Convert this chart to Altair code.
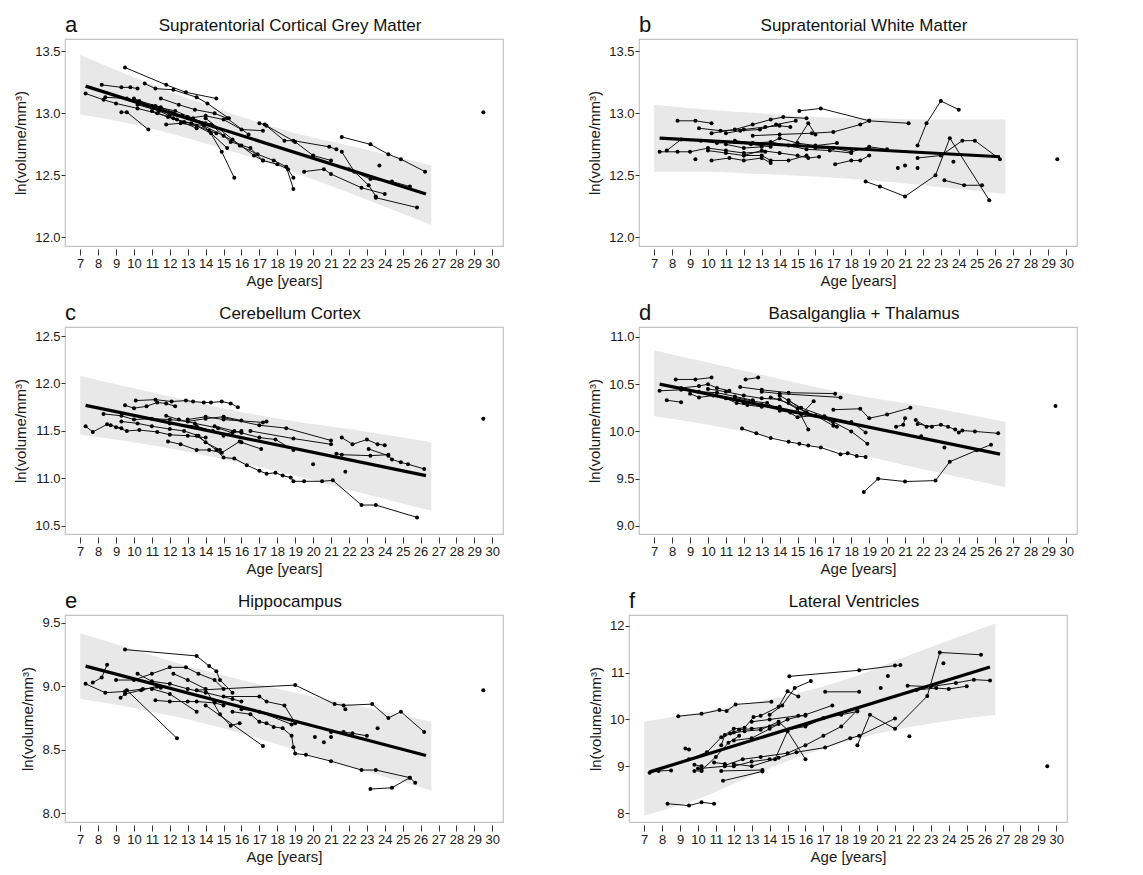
import altair as alt
import pandas as pd

FONT = "Liberation Sans, Arial, sans-serif"

LETTERS = ["a", "b", "c", "d", "e", "f"]
TITLES = [
    "Supratentorial Cortical Grey Matter",
    "Supratentorial White Matter",
    "Cerebellum Cortex",
    "Basalganglia + Thalamus",
    "Hippocampus",
    "Lateral Ventricles",
]
X_TICKS = list(range(7, 31))

# regression line end points (age, value) per panel
REG_X = [7.3, 26.3]
A_REG = [13.22, 12.35]
B_REG = [12.80, 12.65]
C_REG = [11.77, 11.03]
D_REG = [10.50, 9.76]
E_REG = [9.16, 8.455]
F_REG = [8.88, 11.12]

# confidence band (ages, lower, upper)
BAND_X = [7.0, 10, 13, 16, 19, 22, 26.6]
A_LO = [12.99, 12.91, 12.80, 12.67, 12.52, 12.36, 12.10]
A_HI = [13.47, 13.29, 13.12, 12.97, 12.84, 12.74, 12.58]
B_LO = [12.53, 12.53, 12.51, 12.49, 12.46, 12.42, 12.35]
B_HI = [13.07, 13.03, 13.00, 12.97, 12.96, 12.95, 12.95]
C_LO = [11.46, 11.38, 11.28, 11.16, 11.03, 10.88, 10.66]
C_HI = [12.08, 11.95, 11.82, 11.70, 11.60, 11.52, 11.38]
D_LO = [10.16, 10.07, 9.96, 9.85, 9.73, 9.60, 9.41]
D_HI = [10.86, 10.73, 10.60, 10.47, 10.36, 10.27, 10.10]
E_LO = [8.90, 8.83, 8.74, 8.63, 8.50, 8.37, 8.18]
E_HI = [9.42, 9.29, 9.16, 9.05, 8.95, 8.86, 8.72]
F_LO = [7.95, 8.30, 8.80, 9.25, 9.60, 9.85, 10.10]
F_HI = [9.95, 10.15, 10.35, 10.60, 10.95, 11.40, 12.05]

# per-subject trajectories: (age, ln volume)
A_SUBJ = [
    [(9.5, 13.37), (11.8, 13.23), (12.9, 13.17), (14.6, 13.12)],
    [(8.2, 13.23), (9.3, 13.21), (9.8, 13.21), (10.2, 13.20)],
    [(10.6, 13.24), (11.2, 13.20), (12.2, 13.19), (13.5, 13.13), (14.1, 13.08), (15.3, 12.96)],
    [(7.3, 13.16), (8.3, 13.11), (9.0, 13.08), (10.2, 13.04), (11.3, 13.00), (12.2, 12.96), (13.5, 12.88)],
    [(9.3, 13.01), (9.6, 13.01), (10.8, 12.87)],
    [(8.4, 13.13), (9.6, 13.12), (10.3, 13.10), (11.5, 13.05), (12.7, 12.98), (14.0, 12.92)],
    [(10.0, 13.12), (11.0, 13.06), (12.3, 13.02), (13.3, 12.96), (14.2, 12.86), (14.9, 12.69), (15.6, 12.48)],
    [(11.5, 13.12), (12.5, 13.07), (13.4, 13.03), (14.5, 13.00), (15.2, 12.96), (16.4, 12.83)],
    [(11.0, 13.02), (11.9, 12.97), (12.8, 12.93), (13.9, 12.90), (15.0, 12.82), (16.0, 12.74)],
    [(11.2, 13.06), (12.1, 13.00), (13.0, 12.97), (14.3, 12.91), (15.4, 12.77), (16.5, 12.72), (17.2, 12.62)],
    [(10.2, 13.07), (11.4, 13.02), (12.4, 12.95), (13.2, 12.92), (14.3, 12.84), (15.2, 12.72)],
    [(11.8, 12.91), (12.6, 12.92), (13.5, 12.90), (14.6, 12.84)],
    [(12.0, 12.99), (13.0, 12.96), (14.0, 12.98), (15.0, 12.95), (16.0, 12.87), (17.2, 12.86)],
    [(17.0, 12.92), (17.3, 12.91), (18.4, 12.78), (18.9, 12.78), (20.9, 12.73), (21.3, 12.71)],
    [(14.0, 12.96), (15.5, 12.79), (16.7, 12.66), (17.2, 12.62), (18.0, 12.59), (18.6, 12.55), (18.9, 12.48)],
    [(15.9, 12.74), (16.9, 12.67), (17.8, 12.62), (18.5, 12.57), (18.9, 12.39)],
    [(17.4, 12.90), (19.0, 12.77), (20.0, 12.66), (21.0, 12.62)],
    [(19.5, 12.53), (20.6, 12.55), (21.0, 12.51), (22.7, 12.40), (24.0, 12.35)],
    [(21.6, 12.81), (23.2, 12.75), (24.2, 12.67), (24.9, 12.63), (26.25, 12.53)],
    [(21.6, 12.69), (22.3, 12.53), (23.1, 12.42), (23.5, 12.33)],
    [(23.5, 12.32), (25.8, 12.24)],
    [(22.0, 12.55), (23.2, 12.47), (24.4, 12.45), (25.4, 12.41)],
    [(23.7, 12.58)],
    [(29.5, 13.01)],
]

B_SUBJ = [
    [(8.3, 12.94), (9.3, 12.94), (10.2, 12.92)],
    [(9.5, 12.88), (10.7, 12.86), (12.0, 12.87), (13.2, 12.89), (14.0, 12.90), (14.6, 12.89)],
    [(10.2, 12.84), (11.5, 12.87), (12.5, 12.91), (13.5, 12.95), (14.2, 12.97), (15.5, 12.96)],
    [(11.0, 12.84), (11.8, 12.86), (12.9, 12.87), (13.8, 12.91), (14.9, 12.94)],
    [(15.1, 13.02), (16.3, 13.04), (19.0, 12.94), (21.2, 12.92)],
    [(12.5, 12.82), (14.0, 12.83), (15.8, 12.84), (17.0, 12.85), (18.5, 12.91), (19.0, 12.94)],
    [(14.8, 12.74), (15.6, 12.92), (16.0, 12.83)],
    [(7.3, 12.69), (8.3, 12.69), (9.0, 12.69), (10.0, 12.72), (11.0, 12.70), (12.0, 12.68), (13.2, 12.69)],
    [(7.7, 12.70), (8.5, 12.79), (9.6, 12.78), (10.5, 12.76), (11.5, 12.77), (12.4, 12.75), (13.5, 12.73)],
    [(9.3, 12.63)],
    [(10.2, 12.62), (11.2, 12.64), (12.0, 12.62), (13.0, 12.64), (13.5, 12.60)],
    [(10.0, 12.70), (11.0, 12.68), (12.0, 12.66), (13.0, 12.70), (14.0, 12.68), (15.0, 12.66), (15.6, 12.64), (16.2, 12.65)],
    [(11.0, 12.75), (12.0, 12.72), (13.0, 12.73), (14.0, 12.80), (15.0, 12.76), (16.0, 12.74), (17.2, 12.76)],
    [(11.5, 12.78), (12.5, 12.76), (13.5, 12.77), (14.5, 12.74), (15.5, 12.71), (16.8, 12.70), (18.0, 12.68)],
    [(12.0, 12.66), (13.0, 12.66), (13.5, 12.62), (14.5, 12.62), (15.5, 12.66)],
    [(17.1, 12.59), (18.0, 12.62), (18.5, 12.62), (19.0, 12.66)],
    [(16.0, 12.72), (17.0, 12.72), (18.0, 12.69), (19.0, 12.73), (20.0, 12.71)],
    [(18.8, 12.45), (19.6, 12.41), (21.0, 12.33), (22.7, 12.50), (23.5, 12.80), (25.7, 12.30)],
    [(21.7, 12.64), (23.0, 12.66), (24.2, 12.78), (24.9, 12.78), (26.3, 12.63)],
    [(21.7, 12.74), (22.2, 12.92), (23.0, 13.10), (24.0, 13.03)],
    [(23.2, 12.46), (24.3, 12.42), (25.3, 12.42)],
    [(23.7, 12.61)],
    [(20.6, 12.56)],
    [(21.0, 12.58)],
    [(21.7, 12.56)],
    [(29.5, 12.63)],
]

C_SUBJ = [
    [(10.1, 11.82), (11.2, 11.83), (12.1, 11.81), (12.9, 11.82), (13.3, 11.81), (13.9, 11.80), (14.3, 11.80), (14.9, 11.81), (15.4, 11.79), (15.8, 11.75)],
    [(9.5, 11.77), (10.0, 11.74), (10.7, 11.76), (11.3, 11.80), (11.8, 11.79), (12.3, 11.76)],
    [(8.3, 11.68), (9.3, 11.66), (10.0, 11.62), (11.0, 11.63), (12.0, 11.62), (13.0, 11.60), (14.0, 11.63), (15.0, 11.65), (16.0, 11.61)],
    [(7.3, 11.55), (7.7, 11.49), (8.5, 11.57), (8.7, 11.56), (9.3, 11.53)],
    [(9.0, 11.54), (9.6, 11.50), (10.3, 11.51), (11.3, 11.49), (12.0, 11.46), (13.0, 11.45), (14.0, 11.43)],
    [(9.3, 11.60), (10.2, 11.58), (11.0, 11.55), (12.0, 11.52), (12.8, 11.50), (13.6, 11.45), (14.0, 11.38), (14.8, 11.30)],
    [(11.9, 11.39), (12.6, 11.36), (13.5, 11.30), (14.2, 11.30), (14.9, 11.27), (15.9, 11.39)],
    [(11.8, 11.66), (12.5, 11.62), (13.4, 11.58), (14.7, 11.53), (15.5, 11.48), (16.0, 11.50)],
    [(12.0, 11.58), (13.5, 11.55), (14.4, 11.50), (15.0, 11.45), (15.6, 11.50)],
    [(13.0, 11.62), (14.0, 11.65), (15.0, 11.62), (17.2, 11.59), (17.4, 11.60)],
    [(15.0, 11.64), (17.0, 11.56), (18.5, 11.53), (21.0, 11.40)],
    [(13.5, 11.45), (14.6, 11.30), (15.0, 11.22), (15.6, 11.21), (16.3, 11.14), (17.0, 11.08), (17.4, 11.05), (17.9, 11.06), (18.3, 11.03), (18.75, 11.01), (18.9, 10.97), (19.5, 10.97), (20.5, 10.97), (21.1, 10.98), (22.7, 10.72), (23.5, 10.72), (25.8, 10.59)],
    [(14.5, 11.55), (16.0, 11.48), (17.0, 11.43), (17.9, 11.41), (18.9, 11.30)],
    [(16.0, 11.38), (17.1, 11.31)],
    [(16.5, 11.50), (18.9, 11.42), (21.0, 11.36)],
    [(21.6, 11.43), (22.2, 11.36), (23.0, 11.41), (23.6, 11.36), (24.0, 11.35)],
    [(23.1, 11.31), (24.2, 11.24), (24.4, 11.20), (24.9, 11.17), (25.3, 11.15), (26.2, 11.10)],
    [(21.3, 11.26), (21.6, 11.25), (23.2, 11.24), (24.2, 11.25)],
    [(20.0, 11.15)],
    [(21.8, 11.07)],
    [(29.5, 11.63)],
]

D_SUBJ = [
    [(8.2, 10.55), (9.3, 10.55), (10.2, 10.57)],
    [(12.1, 10.55), (12.8, 10.57)],
    [(7.3, 10.43), (8.5, 10.44), (9.5, 10.42), (10.5, 10.41), (11.5, 10.37), (12.5, 10.33)],
    [(7.7, 10.33), (8.5, 10.31)],
    [(8.5, 10.46), (9.5, 10.48), (10.0, 10.50), (10.5, 10.46), (11.2, 10.43)],
    [(9.0, 10.40), (9.5, 10.36), (10.3, 10.38), (11.0, 10.35), (11.6, 10.30), (12.2, 10.28), (13.0, 10.26)],
    [(11.8, 10.47), (13.0, 10.44), (14.5, 10.41), (17.1, 10.40)],
    [(13.0, 10.42), (14.0, 10.40), (17.4, 10.36)],
    [(10.0, 10.45), (11.0, 10.42), (12.0, 10.38), (13.0, 10.35), (14.0, 10.34), (15.0, 10.24), (15.6, 10.02)],
    [(11.5, 10.36), (12.5, 10.32), (13.3, 10.30), (14.0, 10.22), (14.6, 10.20), (15.2, 10.18), (15.9, 10.32)],
    [(12.0, 10.30), (13.0, 10.28), (14.0, 10.26), (15.0, 10.15), (16.0, 10.17), (17.0, 10.06)],
    [(13.5, 10.36), (14.5, 10.30), (15.5, 10.20), (16.5, 10.15), (17.2, 10.05)],
    [(14.0, 10.38), (15.2, 10.25), (16.5, 10.16), (18.0, 10.10), (18.8, 9.99)],
    [(14.5, 10.33), (15.5, 10.20), (17.0, 10.10), (18.0, 10.00), (18.9, 9.87)],
    [(11.9, 10.03), (12.7, 9.98), (13.5, 9.93), (14.5, 9.89), (15.1, 9.87), (15.6, 9.85), (16.3, 9.83), (17.4, 9.76), (17.8, 9.77), (18.3, 9.74), (18.8, 9.73)],
    [(18.7, 9.36), (19.5, 9.50), (21.0, 9.47), (22.7, 9.48), (23.5, 9.68), (25.0, 9.80), (25.8, 9.86)],
    [(21.6, 10.12), (22.2, 10.05), (23.0, 10.07), (23.4, 10.05), (23.8, 10.02), (24.0, 9.99), (24.2, 10.01), (24.9, 10.00), (26.2, 9.98)],
    [(21.7, 10.08), (22.5, 10.05)],
    [(17.0, 10.23), (18.5, 10.24), (19.0, 10.14), (20.0, 10.18), (21.3, 10.25)],
    [(20.5, 10.05), (20.9, 10.07), (21.0, 10.14)],
    [(23.2, 9.83)],
    [(21.9, 9.95)],
    [(29.4, 10.27)],
]

E_SUBJ = [
    [(9.5, 9.29), (13.5, 9.24), (14.2, 9.16), (14.6, 9.12), (14.8, 9.05), (15.5, 8.95)],
    [(7.3, 9.02), (8.4, 8.95), (9.5, 8.96), (10.5, 8.98), (11.5, 8.99)],
    [(7.7, 9.03), (8.2, 9.07), (8.5, 9.17)],
    [(9.25, 8.91), (9.5, 8.94), (10.4, 8.97), (11.3, 9.00)],
    [(9.6, 8.97), (12.4, 8.59)],
    [(9.0, 9.05), (10.0, 9.05), (11.0, 9.10), (12.0, 9.15), (12.9, 9.15), (13.6, 9.10), (14.5, 9.05), (15.0, 8.98)],
    [(10.2, 9.10), (11.0, 9.04), (12.0, 9.02), (13.0, 8.98), (14.0, 8.95), (15.5, 8.90), (16.0, 8.88)],
    [(11.2, 8.89), (12.0, 8.88), (13.0, 8.88), (13.5, 8.88), (14.5, 8.87), (15.0, 8.85)],
    [(11.0, 8.98), (12.0, 8.94), (13.5, 8.80)],
    [(12.2, 9.10), (13.0, 9.05), (14.0, 8.98), (14.8, 8.78), (15.4, 8.69), (15.9, 8.71)],
    [(14.0, 8.85), (17.2, 8.53)],
    [(13.5, 8.97), (19.0, 9.01), (21.2, 8.86), (21.7, 8.85), (23.3, 8.86), (24.2, 8.75), (24.9, 8.80), (26.2, 8.64)],
    [(21.8, 8.82)],
    [(15.0, 8.92), (17.0, 8.92), (17.4, 8.88), (18.4, 8.85), (19.0, 8.71)],
    [(15.5, 8.80), (16.5, 8.78), (17.0, 8.72), (17.4, 8.71), (17.8, 8.68), (18.3, 8.67), (18.8, 8.61), (18.9, 8.52), (19.0, 8.47), (19.6, 8.46), (21.0, 8.41), (22.7, 8.34), (23.5, 8.34), (25.4, 8.28), (25.7, 8.24)],
    [(23.2, 8.19), (24.4, 8.20), (25.4, 8.28)],
    [(16.0, 8.82), (17.0, 8.80), (18.8, 8.70)],
    [(21.0, 8.64), (21.7, 8.64), (22.2, 8.63), (23.0, 8.61)],
    [(21.0, 8.60)],
    [(20.1, 8.60)],
    [(20.6, 8.56)],
    [(23.6, 8.67)],
    [(29.5, 8.97)],
]

F_SUBJ = [
    [(8.3, 8.20), (9.5, 8.16), (10.2, 8.23), (10.9, 8.20)],
    [(8.9, 10.07), (10.2, 10.12), (11.2, 10.20), (11.6, 10.18), (12.1, 10.32), (14.1, 10.38)],
    [(15.1, 10.92), (19.0, 11.05), (21.0, 11.15), (21.3, 11.16)],
    [(14.0, 10.10), (14.7, 10.30), (15.4, 10.67), (16.3, 10.82)],
    [(17.1, 10.59), (19.0, 10.59)],
    [(18.9, 9.45), (19.6, 10.10), (21.0, 9.80), (22.8, 10.50), (23.5, 11.43), (25.8, 11.38)],
    [(23.7, 11.20)],
    [(20.6, 10.93)],
    [(20.2, 10.67)],
    [(21.8, 9.64)],
    [(21.7, 10.72), (23.0, 10.70), (24.4, 10.78), (25.4, 10.85), (26.3, 10.83)],
    [(22.2, 10.63), (23.3, 10.67), (24.0, 10.65), (25.0, 10.71)],
    [(7.3, 8.86), (7.8, 8.90), (8.5, 8.91)],
    [(9.3, 9.38), (9.5, 9.36)],
    [(9.8, 8.90), (10.2, 8.90)],
    [(9.8, 9.03), (10.2, 9.00)],
    [(10.9, 9.08), (11.5, 9.05)],
    [(11.3, 8.90), (13.6, 8.92)],
    [(11.4, 8.69), (13.6, 8.89)],
    [(10.2, 8.92), (11.0, 9.20), (11.7, 9.50), (12.3, 9.65)],
    [(10.0, 8.95), (11.5, 9.00), (12.0, 9.00), (13.0, 9.10), (14.0, 9.15), (14.3, 9.15), (15.0, 9.75), (16.0, 9.15)],
    [(11.5, 9.02), (12.5, 9.15), (13.5, 9.20), (15.0, 9.28), (16.0, 9.45), (17.0, 9.65), (18.0, 9.85), (18.9, 10.20)],
    [(12.0, 9.05), (13.0, 9.00), (14.5, 9.18), (15.5, 9.30), (17.1, 9.40), (18.5, 9.60), (19.0, 9.65), (21.0, 10.02)],
    [(11.3, 9.45), (11.5, 9.67), (12.0, 9.80), (12.6, 9.82), (13.1, 10.05), (13.5, 10.08), (14.5, 10.27), (15.0, 10.60), (15.6, 10.49)],
    [(9.5, 9.15), (10.5, 9.30), (11.3, 9.62), (12.0, 9.72), (12.3, 9.78), (13.0, 9.80), (14.0, 9.85), (14.5, 9.90)],
    [(12.0, 9.55), (13.0, 9.60), (14.0, 9.80), (15.0, 10.00), (16.0, 10.10), (17.5, 10.30)],
    [(11.8, 9.70), (12.6, 9.75), (13.5, 9.78), (14.5, 9.95), (15.0, 9.78), (16.0, 9.85), (17.0, 10.03), (18.0, 10.10), (18.9, 10.17)],
    [(13.0, 9.95), (14.0, 10.00), (15.6, 10.08), (16.0, 10.08)],
    [(29.5, 9.00)],
]

Y_DOMAINS = [[11.93, 13.6], [11.93, 13.6], [10.415, 12.595], [8.915, 11.105], [7.93, 9.563], [7.81, 12.23]]
Y_TICKS = [[12.0, 12.5, 13.0, 13.5], [12.0, 12.5, 13.0, 13.5], [10.5, 11.0, 11.5, 12.0, 12.5],
           [9.0, 9.5, 10.0, 10.5, 11.0], [8.0, 8.5, 9.0, 9.5], [8, 9, 10, 11, 12]]
Y_FMT = [".1f", ".1f", ".1f", ".1f", ".1f", "d"]

W, H = 438, 207


def subj_frame(subjects):
    rows = []
    for i, traj in enumerate(subjects):
        for j, (x, y) in enumerate(traj):
            rows.append({"subj": i, "ord": j, "age": x, "val": y})
    return pd.DataFrame(rows)


def panel(k, subjects, reg, lo, hi):
    xscale = alt.Scale(domain=[6.15, 30.6], nice=False, zero=False)
    yscale = alt.Scale(domain=Y_DOMAINS[k], nice=False, zero=False)
    xaxis = alt.Axis(values=X_TICKS, title="Age [years]", labelOverlap=False, labelFlush=False,
                     offset=3, domain=False, grid=False, tickSize=6, labelPadding=2, titlePadding=3)
    yaxis = alt.Axis(values=Y_TICKS[k], format=Y_FMT[k], title="ln(volume/mm³)", labelOverlap=False,
                     labelFlush=False, domain=False, grid=False, tickSize=4, labelPadding=1,
                     titlePadding=6)

    X = alt.X("age:Q", scale=xscale, axis=xaxis)
    Y = alt.Y("val:Q", scale=yscale, axis=yaxis)

    band_df = pd.DataFrame({"age": BAND_X, "val": lo, "hi": hi})
    band = alt.Chart(band_df).mark_area(color="#e8e8e8", interpolate="monotone").encode(
        x=X, y=Y, y2="hi:Q",
    )
    df = subj_frame(subjects)
    lines = alt.Chart(df).mark_line(color="#111111", strokeWidth=1).encode(
        x=X, y=Y, detail="subj:N", order="ord:Q",
    )
    pts = alt.Chart(df).mark_circle(color="#000000", size=16, opacity=1).encode(x=X, y=Y)
    reg_df = pd.DataFrame({"age": REG_X, "val": reg})
    regl = alt.Chart(reg_df).mark_line(color="#000000", strokeWidth=3.2).encode(x=X, y=Y)

    letter = alt.Chart(pd.DataFrame({"t": [LETTERS[k]]})).mark_text(
        align="left", baseline="alphabetic", fontSize=22, font=FONT, color="#111111"
    ).encode(text="t:N", x=alt.value(0), y=alt.value(-7))
    title = alt.Chart(pd.DataFrame({"t": [TITLES[k]]})).mark_text(
        align="center", baseline="alphabetic", fontSize=17, font=FONT, color="#111111"
    ).encode(text="t:N", x=alt.value(W / 2 + 6), y=alt.value(-8))

    return alt.layer(band, lines, pts, regl, letter, title).properties(width=W, height=H)


pa = panel(0, A_SUBJ, A_REG, A_LO, A_HI)
pb = panel(1, B_SUBJ, B_REG, B_LO, B_HI)
pc = panel(2, C_SUBJ, C_REG, C_LO, C_HI)
pd_ = panel(3, D_SUBJ, D_REG, D_LO, D_HI)
pe = panel(4, E_SUBJ, E_REG, E_LO, E_HI)
pf = panel(5, F_SUBJ, F_REG, F_LO, F_HI)

chart = alt.vconcat(
    alt.hconcat(pa, pb, spacing=83),
    alt.hconcat(pc, pd_, spacing=83),
    alt.hconcat(pe, pf, spacing=83),
    spacing=12,
).properties(
    padding={"left": 5, "top": 5, "right": 5, "bottom": 3}
).configure_view(
    stroke="#c4c4c4", strokeWidth=1.2
).configure_axis(
    labelFont=FONT, labelFontSize=13, labelColor="#1a1a1a",
    titleFont=FONT, titleFontSize=15, titleFontWeight="normal", titleColor="#1a1a1a",
    tickColor="#333333",
)

chart.save("out.html", embed_options={"renderer": "svg", "actions": False})
